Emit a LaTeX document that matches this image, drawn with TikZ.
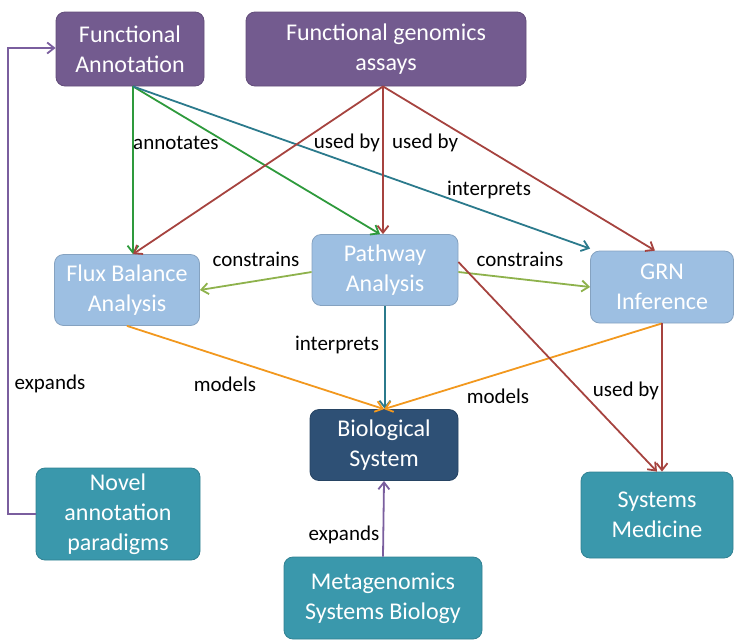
\documentclass[tikz,border=0pt]{standalone}
\usepackage{fontspec}
\setmainfont{Carlito}
\usetikzlibrary{arrows.meta}

\definecolor{purplebox}{HTML}{735B8F}
\definecolor{lightbox}{HTML}{9DBFE2}
\definecolor{darkbox}{HTML}{2E5075}
\definecolor{tealbox}{HTML}{3A98AC}
\definecolor{arrgreen}{HTML}{2E9A3C}
\definecolor{arrteal}{HTML}{2B7A8C}
\definecolor{arrred}{HTML}{A6433F}
\definecolor{arrlime}{HTML}{8EB24C}
\definecolor{arrorange}{HTML}{F2981E}
\definecolor{arrpurple}{HTML}{7A5E9E}

\tikzset{
  box/.style={rounded corners=9pt, draw=#1!85!black, fill=#1, text=white,
    align=center, line width=0.8pt, font=\fontsize{24}{30}\selectfont, inner sep=2pt},
  lbl/.style={font=\fontsize{21}{24}\selectfont, text=black, inner sep=1pt},
  link/.style={draw=#1, line width=1.8pt, -{Straight Barb[length=7pt,width=11pt,line width=1.8pt]}}
}

\begin{document}
\begin{tikzpicture}[x=1pt,y=-1pt]
  \useasboundingbox (0,0) rectangle (735,641);

  % top row
  \node[box=purplebox, minimum width=148pt, minimum height=74pt] (funann) at (130,49) {Functional\\Annotation};
  \node[box=purplebox, minimum width=280pt, minimum height=74pt] (fga) at (386,49) {Functional genomics\\assays};

  % middle row
  \node[box=lightbox, minimum width=145pt, minimum height=71pt] (fba) at (127,290) {Flux Balance\\Analysis};
  \node[box=lightbox, minimum width=146pt, minimum height=71pt] (pwa) at (385,270) {Pathway\\Analysis};
  \node[box=lightbox, minimum width=143pt, minimum height=72pt] (grn) at (662,287) {GRN\\Inference};

  % bottom
  \node[box=darkbox, minimum width=148pt, minimum height=71pt] (biosys) at (384,445) {Biological\\System};
  \node[box=tealbox, minimum width=164pt, minimum height=92pt] (novel) at (118,514) {Novel\\annotation\\paradigms};
  \node[box=tealbox, minimum width=198pt, minimum height=82pt] (meta) at (383,598) {Metagenomics\\Systems Biology};
  \node[box=tealbox, minimum width=152pt, minimum height=86pt] (sysmed) at (657,515) {Systems\\Medicine};

  % anchor points
  \coordinate (fabot) at ([xshift=3pt]funann.south);
  \coordinate (fgabot) at ([xshift=-3pt]fga.south);
  \coordinate (grntop) at ([xshift=-7pt]grn.north);
  \coordinate (grnbot) at (grn.south);

  % from functional annotation
  \draw[link=arrgreen] (fabot) -- (fabot |- fba.north);
  \draw[link=arrgreen] (fabot) -- ([xshift=-5pt]pwa.north);
  \draw[link=arrteal] (fabot) -- ([yshift=2pt]grn.north west);

  % from functional genomics assays
  \draw[link=arrred] (fgabot) -- ([xshift=6pt]fba.north);
  \draw[link=arrred] (fgabot) -- (fgabot |- pwa.north);
  \draw[link=arrred] (fgabot) -- (grntop);

  % pathway constrains
  \draw[link=arrlime] ([yshift=-2pt]pwa.west) -- (fba.east);
  \draw[link=arrlime] ([yshift=-2pt]pwa.east) -- (grn.west);

  % to biological system
  \draw[link=arrteal] (pwa.south) -- (pwa.south |- biosys.north);
  \draw[link=arrorange] (fba.south) -- (biosys.north);
  \draw[link=arrorange] (grnbot) -- (biosys.north);

  % to systems medicine
  \draw[link=arrred] ([yshift=8pt]pwa.east) -- (sysmed.north);
  \draw[link=arrred] (grnbot) -- (grnbot |- sysmed.north);

  % expands
  \draw[link=arrpurple] (meta.north) -- (biosys.south);
  \coordinate (loopbot) at (8,514);
  \coordinate (looptop) at (8,48);
  \draw[link=arrpurple] (novel.west) -- (loopbot) -- (looptop) -- (funann.west |- looptop);

  % labels
  \node[lbl, anchor=west] (lannot) at (132,143) {annotates};
  \node[lbl, anchor=east] (lused1) at (381,143) {used by};
  \node[lbl, anchor=west] (lused2) at (391,143) {used by};
  \node[lbl] (linter1) at (489,190) {interprets};
  \node[lbl] (lcons1) at (256,259) {constrains};
  \node[lbl] (lcons2) at (520,259) {constrains};
  \node[lbl] (linter2) at (337,345) {interprets};
  \node[lbl] (lmod1) at (225,384) {models};
  \node[lbl] (lmod2) at (498,396) {models};
  \node[lbl, anchor=east] (lused3) at (660,391) {used by};
  \node[lbl] (lexp1) at (50,384) {expands};
  \node[lbl] (lexp2) at (344,535) {expands};
\end{tikzpicture}
\end{document}
